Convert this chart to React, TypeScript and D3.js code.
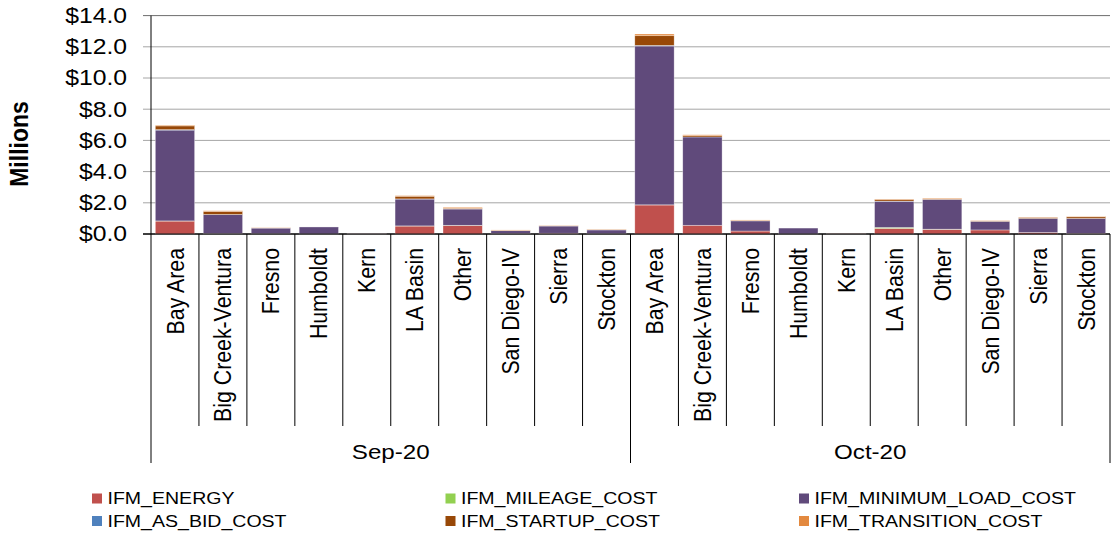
import React from "react";
import * as d3 from "d3";

const months = ["Sep-20", "Oct-20"];
const regions = ["Bay Area", "Big Creek-Ventura", "Fresno", "Humboldt", "Kern", "LA Basin", "Other", "San Diego-IV", "Sierra", "Stockton"];

const seriesNames = ["IFM_ENERGY", "IFM_MILEAGE_COST", "IFM_MINIMUM_LOAD_COST", "IFM_AS_BID_COST", "IFM_STARTUP_COST", "IFM_TRANSITION_COST"];
const seriesColors = ["#C0504D", "#92D050", "#604A7B", "#4F81BD", "#984807", "#E3893F"];

// values in $ millions, per region, Sep-20 then Oct-20
const energy = [0.83, 0.03, 0.02, 0.01, 0.02, 0.51, 0.55, 0.03, 0.05, 0.02, 1.86, 0.56, 0.19, 0.01, 0.02, 0.36, 0.3, 0.26, 0.1, 0.04];
const mileage = [0.01, 0, 0, 0, 0, 0.01, 0.01, 0, 0, 0, 0.01, 0, 0, 0, 0, 0.06, 0.01, 0, 0, 0];
const minimumLoad = [5.82, 1.21, 0.36, 0.44, 0.01, 1.72, 1.04, 0.18, 0.46, 0.24, 10.18, 5.66, 0.65, 0.37, 0, 1.68, 1.91, 0.55, 0.9, 0.96];
const asBid = [0.03, 0.01, 0, 0, 0, 0.01, 0, 0, 0, 0, 0.04, 0, 0, 0, 0, 0.01, 0, 0, 0, 0];
const startup = [0.24, 0.2, 0.01, 0, 0, 0.17, 0.05, 0.02, 0.02, 0.02, 0.62, 0.08, 0.03, 0, 0, 0.1, 0.03, 0.03, 0.06, 0.1];
const transition = [0.05, 0.04, 0.02, 0, 0, 0.04, 0.06, 0.03, 0.02, 0.02, 0.11, 0.06, 0.03, 0, 0, 0.03, 0.05, 0.03, 0.02, 0.03];

const yTicks = [0, 2, 4, 6, 8, 10, 12, 14];

const FONT = "'Liberation Sans', Arial, sans-serif";
const SX = 1.15;

export default function App() {
  const W = 1111, H = 533;
  const left = 151, right = 1110, top = 15.6, bottom = 234;
  const cats = months.flatMap((m) => regions.map((r) => `${m}|${r}`));
  const x = d3.scaleBand<string>().domain(cats).range([left, right]).paddingInner(0.18).paddingOuter(0.09);
  const slot = (right - left) / cats.length;
  const y = d3.scaleLinear().domain([0, 14]).range([bottom, top]);

  const seriesData = [energy, mileage, minimumLoad, asBid, startup, transition];
  const rows = cats.map((c, i) => {
    const o: any = { cat: c };
    seriesNames.forEach((s, k) => (o[s] = seriesData[k][i]));
    return o;
  });
  const stacked = d3.stack<any>().keys(seriesNames)(rows);

  const catLineBottom = 426;
  const monthLineBottom = 463;

  return (
    <svg width={W} height={H} style={{ position: "absolute", left: 0, top: 0, background: "#fff" }} fontFamily={FONT}>
      {/* gridlines */}
      {yTicks.map((t) => (
        <line key={"g" + t} x1={left - 8} x2={right} y1={y(t)} y2={y(t)} stroke={t === 14 ? "#6e6e6e" : t === 0 ? "#000" : "#a6a6a6"} strokeWidth={1} />
      ))}
      {/* y tick labels */}
      {yTicks.map((t) => (
        <text key={"t" + t} transform={`translate(127,${y(t)}) scale(${SX},1)`} textAnchor="end" dominantBaseline="central" fontSize={21.5} fill="#000">
          {"$" + d3.format(".1f")(t)}
        </text>
      ))}
      <text transform={`translate(19,144) scale(${SX},1) rotate(-90)`} textAnchor="middle" dominantBaseline="central" fontSize={23} fontWeight="bold">
        Millions
      </text>
      {/* bars */}
      {stacked.map((layer, k) => (
        <g key={layer.key} fill={seriesColors[k]}>
          {layer.map((d, i) => {
            const h = y(d[0]) - y(d[1]);
            if (h <= 0) return null;
            return <rect key={i} x={x(cats[i])} width={x.bandwidth()} y={y(d[1])} height={h} stroke="rgba(255,255,255,0.55)" strokeWidth={0.6} />;
          })}
        </g>
      ))}
      {/* axes */}
      <line x1={left} x2={left} y1={top} y2={monthLineBottom} stroke="#000" />
      <line x1={left - 8} x2={right} y1={bottom} y2={bottom} stroke="#000" />
      {cats.map((c, i) => {
        const xx = left + slot * (i + 1);
        const isMonth = (i + 1) % regions.length === 0;
        return <line key={"s" + i} x1={xx} x2={xx} y1={bottom} y2={isMonth ? monthLineBottom : catLineBottom} stroke="#000" />;
      })}
      {/* category labels */}
      {cats.map((c, i) => (
        <text key={"c" + i} transform={`translate(${(x(c) as number) + x.bandwidth() / 2},248) scale(${SX},1) rotate(-90)`} textAnchor="end" dominantBaseline="central" fontSize={21.3}>
          {c.split("|")[1]}
        </text>
      ))}
      {months.map((m, j) => (
        <text key={m} transform={`translate(${left + slot * regions.length * (j + 0.5)},459) scale(${SX},1)`} textAnchor="middle" fontSize={21}>
          {m}
        </text>
      ))}
      {/* legend */}
      {seriesNames.map((s, k) => {
        const col = k % 3, row = Math.floor(k / 3);
        const lx = 92 + col * 353.5;
        const ly = 493.5 + row * 22.5;
        return (
          <g key={s}>
            <rect x={lx} y={ly} width={10} height={10} fill={seriesColors[k]} />
            <text transform={`translate(${lx + 15.5},${ly + 10.5}) scale(${SX},1)`} fontSize={17}>
              {s}
            </text>
          </g>
        );
      })}
    </svg>
  );
}
